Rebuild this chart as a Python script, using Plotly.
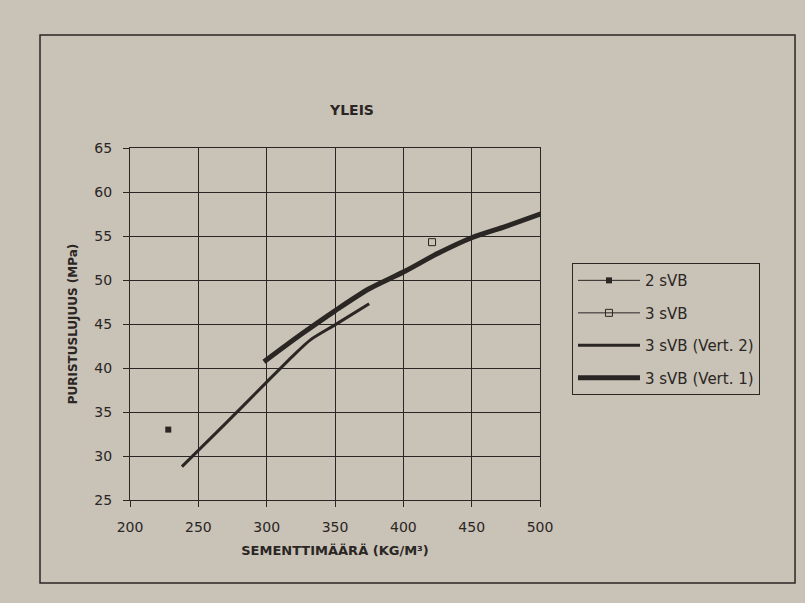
import plotly.graph_objects as go

# Data
x_2svb = [228]
y_2svb = [33.0]

x_3svb = [421]
y_3svb = [54.3]

x_vert2 = [238, 270, 300, 320, 332, 350, 375]
y_vert2 = [28.8, 33.7, 38.4, 41.5, 43.2, 44.9, 47.3]

x_vert1 = [298, 325, 350, 375, 400, 425, 450, 475, 502]
y_vert1 = [40.7, 43.8, 46.5, 49.0, 50.9, 53.0, 54.8, 56.1, 57.6]

x_ticks = [200, 250, 300, 350, 400, 450, 500]
y_ticks = [25, 30, 35, 40, 45, 50, 55, 60, 65]

ink = "#2a2624"
bg = "#c9c2b6"
font_family = "DejaVu Sans, Lato, sans-serif"

fig = go.Figure()
fig.add_trace(go.Scatter(x=x_2svb, y=y_2svb, mode="lines+markers", name="2 sVB",
                         legendgroup="a",
                         line=dict(color=ink, width=1),
                         marker=dict(symbol="square", size=6, color=ink)))
fig.add_trace(go.Scatter(x=x_3svb, y=y_3svb, mode="lines+markers", name="3 sVB",
                         legendgroup="b",
                         line=dict(color=ink, width=1),
                         marker=dict(symbol="square-open", size=7, color=ink, line=dict(width=1))))
fig.add_trace(go.Scatter(x=x_vert2, y=y_vert2, mode="lines", name="3 sVB (Vert. 2)",
                         legendgroup="c",
                         line=dict(color=ink, width=3, shape="spline", smoothing=0.6)))
fig.add_trace(go.Scatter(x=x_vert1, y=y_vert1, mode="lines", name="3 sVB (Vert. 1)",
                         legendgroup="d",
                         line=dict(color=ink, width=5, shape="spline", smoothing=0.8)))

fig.update_layout(
    width=805, height=603,
    margin=dict(l=130, r=265, t=148, b=103),
    paper_bgcolor=bg, plot_bgcolor=bg,
    font=dict(family=font_family, color=ink, size=14),
    title=dict(text="<b>YLEIS</b>", x=352 / 805, xanchor="center",
               y=1 - 110 / 603, yanchor="middle", font=dict(size=14, color=ink)),
    showlegend=True,
    legend=dict(x=1.078, y=0.673, xanchor="left", yanchor="top",
                bgcolor=bg, bordercolor=ink, borderwidth=1,
                font=dict(size=15, color=ink), tracegroupgap=10,
                itemwidth=62),
    xaxis=dict(range=[200, 500], tickvals=x_ticks, ticktext=[str(v) for v in x_ticks],
               showgrid=True, gridcolor=ink, gridwidth=1,
               showline=True, linecolor=ink, linewidth=1, mirror=True,
               ticks="outside", ticklen=6, tickcolor=ink, zeroline=False,
               ticklabelstandoff=8,
               title=dict(text="<b>SEMENTTIMÄÄRÄ (KG/M³)</b>", font=dict(size=13), standoff=12)),
    yaxis=dict(range=[25, 65], tickvals=y_ticks, ticktext=[str(v) for v in y_ticks],
               showgrid=True, gridcolor=ink, gridwidth=1,
               showline=True, linecolor=ink, linewidth=1, mirror=True,
               ticks="outside", ticklen=6, tickcolor=ink, zeroline=False,
               ticklabelstandoff=8,
               title=dict(text="<b>PURISTUSLUJUUS (MPa)</b>", font=dict(size=12), standoff=14)),
    shapes=[dict(type="rect", xref="paper", yref="paper",
                 x0=-0.2195, x1=1.622, y0=-0.236, y1=1.321,
                 line=dict(color=ink, width=1.5), fillcolor="rgba(0,0,0,0)", layer="below")],
)

fig.write_html("out.html")
